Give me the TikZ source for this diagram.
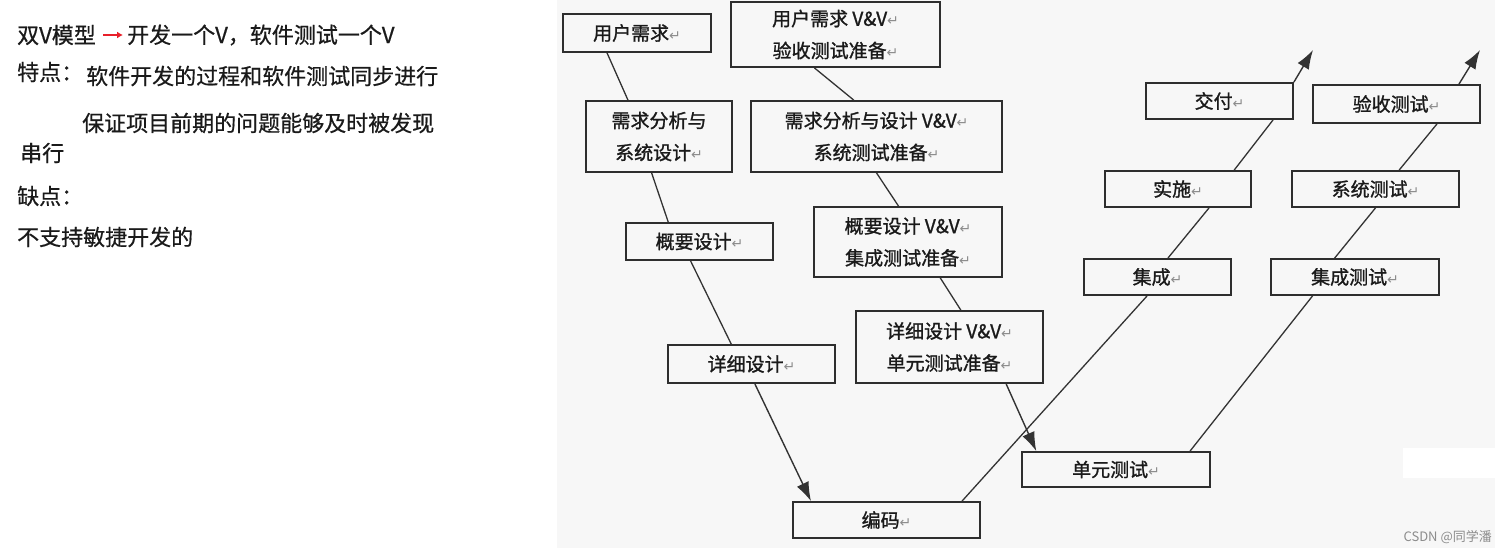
\documentclass[tikz,border=0pt]{standalone}
\usepackage{fontspec}
\setmainfont{Noto Sans CJK SC}
\newfontfamily\notizfont[FakeBold=0.6]{Noto Sans CJK SC}
\newfontfamily\kastenfont[FakeBold=1.2]{Noto Sans CJK SC}
\newfontfamily\symfont{DejaVu Sans}
\usetikzlibrary{arrows.meta,calc}
\definecolor{hgrund}{HTML}{F7F7F7}
\definecolor{rahmen}{HTML}{2E2E2E}
\definecolor{linie}{HTML}{333333}
\definecolor{schrift}{HTML}{1A1A1A}
\definecolor{marke}{HTML}{8C8C8C}
\definecolor{rot}{HTML}{E8202A}
\newcommand{\huiche}{{\symfont\fontsize{14}{14}\selectfont\textcolor{marke}{↵}}}
\tikzset{
  kasten/.style={draw=rahmen,line width=1.8pt,inner sep=0pt,align=center,text=schrift,font=\kastenfont\fontsize{19}{32}\selectfont},
  lauf/.style={linie,line width=1.3pt},
  pfeil/.style={-{Latex[length=19pt,width=13pt]},linie,line width=1.4pt},
  notiz/.style={anchor=west,inner sep=0pt,text=schrift,font=\notizfont\fontsize{22}{26}\selectfont},
}
\begin{document}
\begin{tikzpicture}[x=1pt,y=-1pt]
  \fill[white] (0,0) rectangle (1507,554);
  \useasboundingbox (0,0) rectangle (1507,554);
  \fill[hgrund] (557,0) rectangle (1495,548);
  \fill[white] (1403,448) rectangle (1495,478);
  % linke Notizen
  \node[notiz] (t1) at (17,35) {双V模型};
  \node[notiz] (t2) at (127,35) {开发一个V，软件测试一个V};
  \draw[-{Latex[length=6pt,width=7pt]},rot,line width=2.4pt,shorten <=7pt,shorten >=4pt] (t1.east) -- (t2.west);
  \node[notiz] (t3) at (17,72) {特点：};
  \node[notiz] (t4) at (86,76) {软件开发的过程和软件测试同步进行};
  \node[notiz] (t5) at (82,123) {保证项目前期的问题能够及时被发现};
  \node[notiz] (t6) at (20,153) {串行};
  \node[notiz] (t7) at (17,196) {缺点：};
  \node[notiz] (t8) at (17,237) {不支持敏捷开发的};
  % Entwicklung
  \node[kasten,minimum width=148pt,minimum height=38pt] (yhxq) at (637,33) {用户需求\huiche};
  \node[kasten,minimum width=146pt,minimum height=71pt] (xqfx) at (659,136.5) {需求分析与\\系统设计\huiche};
  \node[kasten,minimum width=147pt,minimum height=37pt] (gysj) at (699.5,241.5) {概要设计\huiche};
  \node[kasten,minimum width=167pt,minimum height=38pt] (xxsj) at (751.5,364) {详细设计\huiche};
  \node[kasten,minimum width=187pt,minimum height=36pt] (bm) at (886.5,520) {编码\huiche};
  % V&V
  \node[kasten,minimum width=209pt,minimum height=65pt] (yhvv) at (835.5,34.5) {用户需求 V\&V\huiche\\验收测试准备\huiche};
  \node[kasten,minimum width=251pt,minimum height=71pt] (xqvv) at (876.5,136.5) {需求分析与设计 V\&V\huiche\\系统测试准备\huiche};
  \node[kasten,minimum width=188pt,minimum height=70pt] (gyvv) at (908,242) {概要设计 V\&V\huiche\\集成测试准备\huiche};
  \node[kasten,minimum width=187pt,minimum height=72pt] (xxvv) at (949.5,347) {详细设计 V\&V\huiche\\单元测试准备\huiche};
  \node[kasten,minimum width=188pt,minimum height=35pt] (dycs) at (1116,469.5) {单元测试\huiche};
  % Umsetzung und Tests
  \node[kasten,minimum width=147pt,minimum height=36pt] (jc) at (1157.5,277) {集成\huiche};
  \node[kasten,minimum width=146pt,minimum height=36pt] (ss) at (1178,189) {实施\huiche};
  \node[kasten,minimum width=147pt,minimum height=36pt] (jf) at (1219.5,101) {交付\huiche};
  \node[kasten,minimum width=168pt,minimum height=36pt] (jccs) at (1355,277) {集成测试\huiche};
  \node[kasten,minimum width=167pt,minimum height=36pt] (xtcs) at (1375.5,189) {系统测试\huiche};
  \node[kasten,minimum width=167pt,minimum height=38pt] (yscs) at (1396.5,104) {验收测试\huiche};
  \coordinate (jfend) at (1313,50);
  \coordinate (ysend) at (1480,50);
  % Verbindungen
  \draw[lauf] ($(yhxq.south west)!.30!(yhxq.south east)$) -- ($(xqfx.north west)!.29!(xqfx.north east)$);
  \draw[lauf] ($(xqfx.south west)!.45!(xqfx.south east)$) -- ($(gysj.north west)!.29!(gysj.north east)$);
  \draw[lauf] ($(gysj.south west)!.44!(gysj.south east)$) -- ($(xxsj.north west)!.38!(xxsj.north east)$);
  \draw[pfeil] ($(xxsj.south west)!.52!(xxsj.south east)$) -- ($(bm.north west)!.10!(bm.north east)$);
  \draw[lauf] ($(yhvv.south west)!.40!(yhvv.south east)$) -- ($(xqvv.north west)!.41!(xqvv.north east)$);
  \draw[lauf] ($(xqvv.south west)!.50!(xqvv.south east)$) -- ($(gyvv.north west)!.45!(gyvv.north east)$);
  \draw[lauf] ($(gyvv.south west)!.67!(gyvv.south east)$) -- ($(xxvv.north west)!.56!(xxvv.north east)$);
  \draw[pfeil] ($(xxvv.south west)!.80!(xxvv.south east)$) -- ($(dycs.north west)!.08!(dycs.north east)$);
  \draw[lauf] ($(bm.north west)!.90!(bm.north east)$) -- ($(jc.south west)!.43!(jc.south east)$);
  \draw[lauf] ($(jc.north west)!.57!(jc.north east)$) -- ($(ss.south west)!.71!(ss.south east)$);
  \draw[lauf] ($(ss.north west)!.88!(ss.north east)$) -- ($(jf.south west)!.86!(jf.south east)$);
  \draw[pfeil] (jf.north east) -- (jfend);
  \draw[lauf] ($(dycs.north west)!.89!(dycs.north east)$) -- ($(jccs.south west)!.25!(jccs.south east)$);
  \draw[lauf] ($(jccs.north west)!.38!(jccs.north east)$) -- ($(xtcs.south west)!.50!(xtcs.south east)$);
  \draw[lauf] ($(xtcs.north west)!.64!(xtcs.north east)$) -- ($(yscs.south west)!.74!(yscs.south east)$);
  \draw[pfeil] ($(yscs.north west)!.87!(yscs.north east)$) -- (ysend);
  \node[anchor=east,inner sep=0pt,text=marke,font=\fontsize{13}{15}\selectfont] (quelle) at (1492,537) {CSDN @同学潘};
\end{tikzpicture}
\end{document}
